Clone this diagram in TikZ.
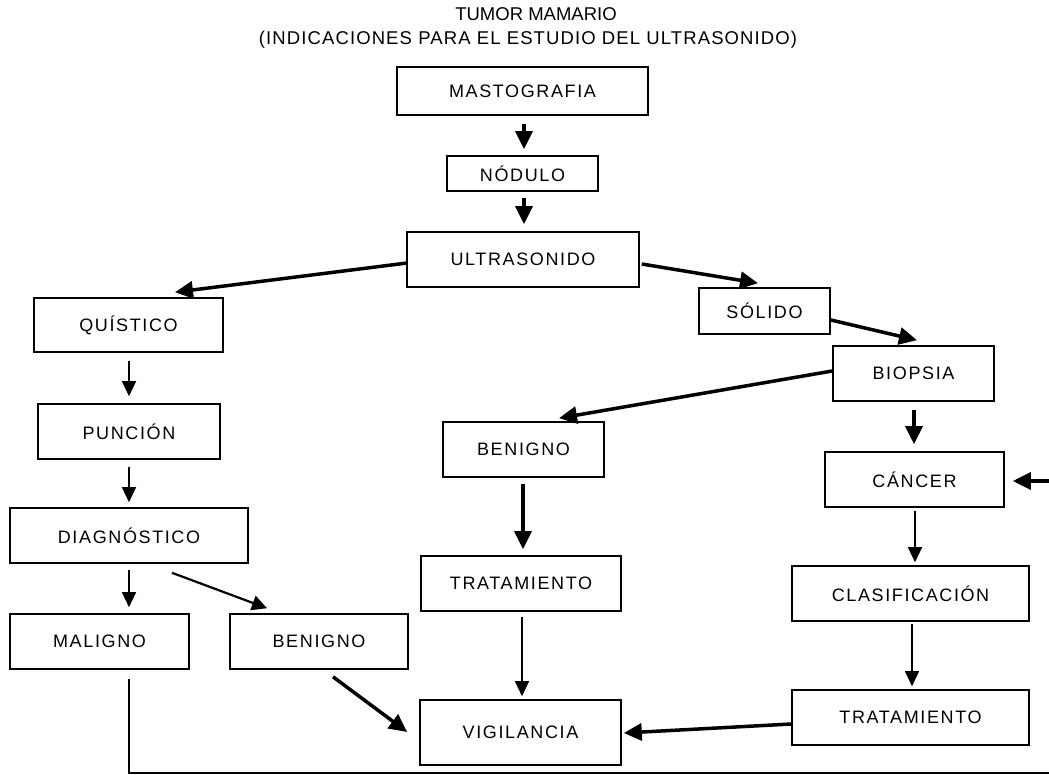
\documentclass[tikz,border=0pt]{standalone}
\usepackage{fontspec}
\setmainfont{Liberation Sans}
\newfontfamily\boxfont[LetterSpace=9]{Liberation Sans}
\newfontfamily\subfont[LetterSpace=6]{Liberation Sans}
\usetikzlibrary{arrows.meta,calc}
\begin{document}
\begin{tikzpicture}[x=1pt,y=-1pt,
  box/.style={draw,line width=1.6pt,inner sep=0pt,font=\boxfont\fontsize{18}{21}\selectfont},
  ttl/.style={inner sep=0pt,font=\fontsize{18.5}{21}\selectfont},
  subttl/.style={inner sep=0pt,font=\subfont\fontsize{18.5}{21}\selectfont},
  thk/.style={line width=3.5pt,-{Triangle[length=18pt,width=17pt]}},
  thn/.style={line width=1.3pt,-{Triangle[length=15pt,width=14pt]}},
  mid/.style={line width=2.2pt,-{Triangle[length=15pt,width=15pt]}},
  plain/.style={line width=1.3pt}
]
\useasboundingbox (0,0) rectangle (1049,775);

% titles
\node[ttl] (t1) at (536,14) {TUMOR MAMARIO};
\node[subttl] (t2) at (528,40) {(INDICACIONES PARA EL ESTUDIO DEL ULTRASONIDO)};

% boxes
\node[box,minimum width=251,minimum height=48] (mast)  at (522.5,91)   {MASTOGRAFIA};
\node[box,minimum width=151,minimum height=35] (nod)   at (522.5,173.5) {NÓDULO};
\node[box,minimum width=232,minimum height=55] (ultra) at (523,259.5)  {ULTRASONIDO};
\node[box,minimum width=189,minimum height=54] (quis)  at (128.5,325)  {QUÍSTICO};
\node[box,minimum width=182,minimum height=55] (pun)   at (129,431.5)  {PUNCIÓN};
\node[box,minimum width=238,minimum height=55] (diag)  at (129,535.5)  {DIAGNÓSTICO};
\node[box,minimum width=179,minimum height=55] (mal)   at (99.5,641.5) {MALIGNO};
\node[box,minimum width=178,minimum height=55] (ben2)  at (319,641.5)  {BENIGNO};
\node[box,minimum width=131,minimum height=46] (sol)   at (764.5,311)  {SÓLIDO};
\node[box,minimum width=161,minimum height=55] (bio)   at (913.5,373.5) {BIOPSIA};
\node[box,minimum width=161,minimum height=55] (ben1)  at (523.5,449.5) {BENIGNO};
\node[box,minimum width=179,minimum height=55] (can)   at (914.5,479.5) {CÁNCER};
\node[box,minimum width=200,minimum height=55] (trat)  at (521,583.5)  {TRATAMIENTO};
\node[box,minimum width=237,minimum height=55] (clas)  at (910.5,593.5) {CLASIFICACIÓN};
\node[box,minimum width=237,minimum height=55] (trat2) at (910.5,717.5) {TRATAMIENTO};
\node[box,minimum width=201,minimum height=65] (vig)   at (520.5,732.5) {VIGILANCIA};

% free-end coordinates
\coordinate (c1) at (129,773);
\coordinate (c2) at (1049,773);
\coordinate (ext) at (1049,481);

% connectors
\draw[thk] ($(mast.south)+(1.5,8)$) -- ($(nod.north)+(1.5,-6)$);
\draw[thk] ($(nod.south)+(1.5,6)$) -- ($(ultra.north)+(1,-7)$);
\draw[thk] ($(ultra.west)+(1,3.5)$) -- ($(quis.north)+(46.5,-5)$);
\draw[thk] ($(ultra.east)+(2,4.5)$) -- ($(sol.north)+(-6.5,-4)$);
\draw[thk] ($(sol.east)+(0,9)$) -- ($(bio.north)+(3.5,-5)$);
\draw[thk] ($(bio.west)+(0,-2.5)$) -- ($(ben1.north)+(35.5,-3)$);
\draw[thk] ($(bio.south)+(0.5,8)$) -- ($(can.north)+(-0.5,-7)$);
\draw[thk] (ext) -- ($(can.east)+(8,1.5)$);
\draw[thk] ($(ben1.south)+(-0.5,6)$) -- ($(trat.north)+(2,-6)$);
\draw[thn] ($(can.south)+(0.5,3)$) -- ($(clas.north)+(4.5,-3)$);
\draw[thn] ($(clas.south)+(1.5,2)$) -- ($(trat2.north)+(1.5,-3)$);
\draw[thk] ($(trat2.west)+(0,6.5)$) -- ($(vig.east)+(2,0.5)$);
\draw[thn] ($(trat.south)+(1,5)$) -- ($(vig.north)+(1.5,-3)$);
\draw[thk] ($(ben2.south)+(14,7)$) -- ($(vig.west)+(-12,-0.5)$);
\draw[thn] ($(quis.south)+(0.5,8)$) -- ($(pun.north)+(0,-7)$);
\draw[thn] ($(pun.south)+(0,7)$) -- ($(diag.north)+(0,-5)$);
\draw[thn] ($(diag.south)+(0,6)$) -- ($(mal.north)+(29.5,-6)$);
\draw[mid] ($(diag.south)+(43,9)$) -- ($(ben2.north)+(-52,-5)$);
\draw[plain] ($(mal.south)+(29.5,9)$) -- (c1) -- (c2);
\end{tikzpicture}
\end{document}
